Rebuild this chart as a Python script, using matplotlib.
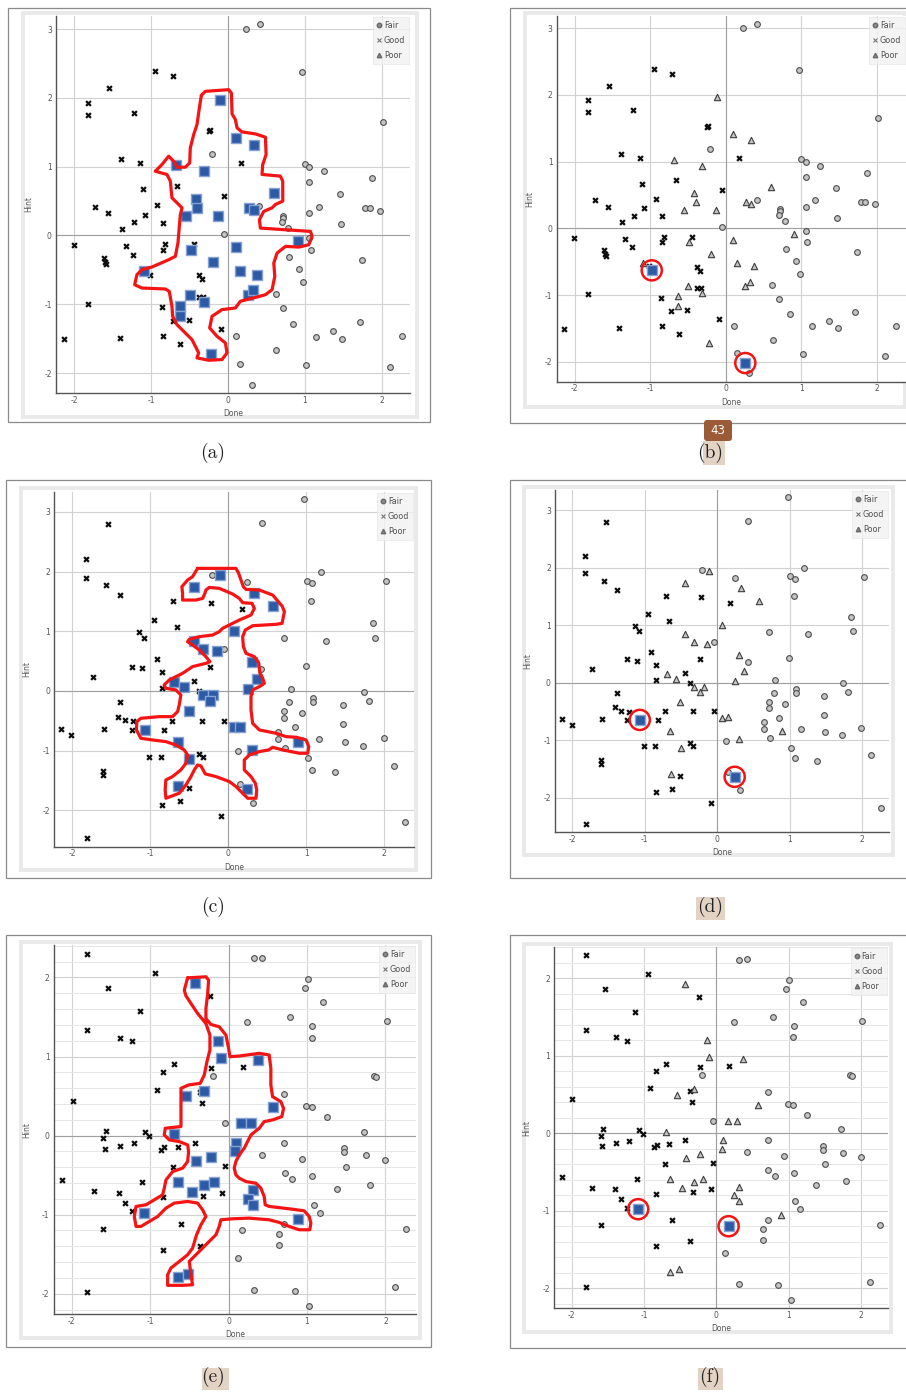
import numpy as np
import matplotlib
matplotlib.use("Agg")
import matplotlib.pyplot as plt
from matplotlib.lines import Line2D
from matplotlib.patches import Rectangle, FancyBboxPatch

W, H = 906, 1393

# ---------------- data set 1 : panels (a) / (b)
fair_1 = np.array([
    [0.23, 3.00], [0.42, 3.07], [0.97, 2.37], [2.02, 1.65], [-0.21, 1.19], [1.00, 1.04],
    [1.06, 1.00], [1.25, 0.94], [1.06, 0.77], [1.87, 0.83], [1.46, 0.60], [1.19, 0.42],
    [1.06, 0.32], [0.41, 0.43], [0.72, 0.29], [0.72, 0.26], [0.70, 0.20], [1.79, 0.40],
    [1.85, 0.40], [1.98, 0.36], [1.47, 0.16], [0.78, 0.11], [-0.05, 0.02], [1.06, -0.04],
    [1.08, -0.21], [0.80, -0.31], [1.74, -0.36], [0.93, -0.49], [0.98, -0.68], [0.62, -0.85],
    [0.71, -1.06], [0.85, -1.28], [0.11, -1.46], [1.15, -1.47], [1.37, -1.39], [1.49, -1.50],
    [1.72, -1.26], [2.26, -1.46], [0.63, -1.67], [1.02, -1.89], [2.11, -1.91], [0.31, -2.17],
    [0.15, -1.87]])
good_1 = np.array([
    [-1.82, 1.93], [-1.82, 1.75], [-1.55, 2.14], [-0.95, 2.39], [-0.71, 2.32], [-1.23, 1.78],
    [-0.23, 1.54], [-0.25, 1.52], [-1.39, 1.11], [-1.14, 1.05], [0.17, 1.06], [-1.11, 0.67],
    [-0.66, 0.72], [-0.05, 0.57], [-1.73, 0.42], [-1.56, 0.32], [-1.08, 0.30], [-0.92, 0.44],
    [-1.22, 0.19], [-0.85, 0.18], [-1.38, 0.10], [-2.01, -0.14], [-1.33, -0.16], [-1.24, -0.28],
    [-1.61, -0.33], [-1.60, -0.38], [-1.59, -0.42], [-0.82, -0.13], [-0.85, -0.21], [-0.44, -0.13],
    [-1.02, -0.57], [-0.38, -0.58], [-0.34, -0.64], [-1.82, -0.99], [-0.86, -1.04], [-0.38, -0.89],
    [-0.33, -0.90], [-0.72, -1.24], [-0.51, -1.23], [-0.09, -1.36], [-2.14, -1.51], [-1.41, -1.49],
    [-0.85, -1.46], [-0.62, -1.58]])
poor_1 = np.array([
    [-0.11, 1.97], [0.10, 1.42], [0.34, 1.32], [-0.68, 1.02], [-0.31, 0.93], [0.60, 0.62],
    [-0.42, 0.53], [-0.40, 0.40], [0.27, 0.40], [0.34, 0.37], [-0.55, 0.28], [-0.13, 0.28],
    [-0.48, -0.21], [0.10, -0.17], [0.91, -0.08], [-0.19, -0.38], [0.15, -0.52], [0.38, -0.57],
    [-1.09, -0.52], [-0.50, -0.86], [-0.31, -0.97], [0.26, -0.86], [0.32, -0.80], [-0.63, -1.02],
    [-0.63, -1.17], [-0.22, -1.72]])
picked_1 = np.array([[-0.98, -0.63], [0.26, -2.02]])
lasso_1 = np.array([
    [-0.347, 2.037], [-0.295, 2.095], [0.009, 2.119], [0.044, 2.071], [0.053, 1.766],
    [0.096, 1.684], [0.118, 1.563], [0.183, 1.505], [0.357, 1.476], [0.487, 1.428],
    [0.496, 1.176], [0.452, 1.031], [0.443, 0.887], [0.682, 0.862], [0.713, 0.789],
    [0.713, 0.499], [0.618, 0.451], [0.574, 0.402], [0.465, 0.349], [0.409, 0.228],
    [0.422, 0.107], [1.074, 0.059], [1.095, -0.014], [1.052, -0.135], [0.922, -0.169],
    [0.748, -0.159], [0.639, -0.256], [0.596, -0.401], [0.609, -0.595], [0.574, -0.788],
    [0.487, -0.861], [0.378, -0.895], [0.270, -0.924], [0.161, -0.957], [0.096, -1.054],
    [-0.078, -1.078], [-0.208, -1.175], [-0.239, -1.345], [-0.143, -1.466], [-0.034, -1.562],
    [-0.013, -1.707], [-0.078, -1.804], [-0.252, -1.814], [-0.404, -1.780], [-0.382, -1.707],
    [-0.469, -1.514], [-0.578, -1.393], [-0.665, -1.296], [-0.721, -1.175], [-0.730, -1.030],
    [-0.765, -0.812], [-0.817, -0.778], [-1.121, -0.764], [-1.216, -0.716], [-1.186, -0.570],
    [-1.121, -0.498], [-0.991, -0.459], [-0.773, -0.353], [-0.686, -0.304], [-0.652, -0.111],
    [-0.634, 0.131], [-0.621, 0.300], [-0.599, 0.402], [-0.730, 0.547], [-0.751, 0.789],
    [-0.795, 0.886], [-0.947, 0.934], [-0.860, 1.031], [-0.773, 1.152], [-0.699, 1.069],
    [-0.665, 0.992], [-0.556, 0.992], [-0.499, 1.055], [-0.491, 1.273], [-0.447, 1.466],
    [-0.404, 1.611], [-0.373, 1.853], [-0.347, 2.037]])

# ---------------- data set 2 : panels (c) / (d)
fair_2 = np.array([
    [0.97, 3.22], [0.43, 2.81], [-0.21, 1.95], [0.24, 1.82], [1.01, 1.85], [1.07, 1.81],
    [1.19, 1.99], [1.06, 1.50], [2.02, 1.84], [0.71, 0.88], [1.25, 0.84], [1.85, 1.14],
    [1.88, 0.89], [-0.05, 0.70], [0.99, 0.42], [0.42, 0.36], [0.80, 0.04], [0.78, -0.19],
    [0.71, -0.34], [0.72, -0.45], [0.94, -0.37], [1.08, -0.11], [1.09, -0.19], [1.47, -0.23],
    [1.74, -0.01], [1.80, -0.16], [0.85, -0.61], [0.64, -0.69], [0.64, -0.81], [0.73, -0.96],
    [1.16, -0.81], [1.47, -0.56], [1.49, -0.86], [1.72, -0.92], [1.99, -0.79], [0.12, -1.01],
    [1.02, -1.13], [1.07, -1.32], [1.37, -1.36], [2.12, -1.26], [0.32, -1.87], [2.26, -2.19],
    [0.15, -1.56]])
good_2 = np.array([
    [-1.82, 2.21], [-1.82, 1.90], [-1.54, 2.80], [-1.57, 1.77], [-1.39, 1.61], [-0.71, 1.51],
    [-0.22, 1.48], [0.17, 1.38], [-0.95, 1.19], [-0.66, 1.07], [-1.14, 0.99], [-1.08, 0.89],
    [-0.92, 0.54], [-1.24, 0.41], [-1.11, 0.38], [-0.24, 0.41], [-0.85, 0.31], [-1.73, 0.23],
    [-0.44, 0.17], [-0.85, 0.05], [-0.38, 0.00], [-1.39, -0.19], [-1.41, -0.43], [-1.33, -0.49],
    [-1.22, -0.51], [-1.24, -0.65], [-0.72, -0.50], [-0.34, -0.50], [-0.05, -0.50], [-0.82, -0.66],
    [-2.14, -0.64], [-2.01, -0.74], [-1.59, -0.64], [-1.01, -1.11], [-0.86, -1.11], [-0.38, -1.06],
    [-0.33, -1.10], [-1.61, -1.34], [-1.61, -1.41], [-0.51, -1.62], [-0.62, -1.85], [-0.85, -1.91],
    [-0.09, -2.10], [-1.81, -2.46]])
poor_2 = np.array([
    [-0.11, 1.94], [-0.44, 1.74], [0.33, 1.64], [0.57, 1.42], [0.07, 1.01], [-0.44, 0.84],
    [-0.32, 0.71], [-0.14, 0.67], [0.30, 0.48], [0.37, 0.20], [-0.70, 0.15], [-0.57, 0.07],
    [-0.32, -0.07], [-0.19, -0.07], [-0.24, -0.17], [0.25, 0.03], [-0.51, -0.33], [-1.07, -0.65],
    [0.07, -0.61], [0.15, -0.60], [-0.65, -0.85], [0.30, -0.99], [0.89, -0.85], [-0.50, -1.14],
    [-0.64, -1.59], [0.24, -1.64]])
picked_2 = np.array([[-1.07, -0.65], [0.24, -1.64]])
lasso_2 = np.array([
    [-0.394, 2.055], [0.098, 2.055], [0.133, 1.971], [0.193, 1.748], [0.227, 1.703],
    [0.398, 1.692], [0.569, 1.608], [0.689, 1.424], [0.719, 1.329], [0.689, 1.133],
    [0.612, 1.117], [0.312, 1.094], [0.218, 1.022], [0.184, 0.910], [0.193, 0.743],
    [0.227, 0.631], [0.334, 0.575], [0.389, 0.475], [0.406, 0.296], [0.441, 0.212],
    [0.462, 0.128], [0.398, 0.073], [0.312, 0.017], [0.291, -0.095], [0.291, -0.318],
    [0.312, -0.542], [0.398, -0.653], [0.612, -0.709], [0.740, -0.765], [0.869, -0.776],
    [0.997, -0.821], [1.031, -0.932], [1.018, -1.044], [0.911, -1.044], [0.697, -0.988],
    [0.569, -0.944], [0.518, -0.988], [0.398, -1.016], [0.270, -1.072], [0.205, -1.156],
    [0.205, -1.323], [0.291, -1.435], [0.347, -1.547], [0.364, -1.658], [0.355, -1.798],
    [0.248, -1.798], [0.184, -1.714], [0.098, -1.602], [0.013, -1.518], [-0.158, -1.435],
    [-0.295, -1.390], [-0.351, -1.256], [-0.394, -1.240], [-0.436, -1.323], [-0.479, -1.435],
    [-0.543, -1.575], [-0.629, -1.714], [-0.800, -1.798], [-0.809, -1.658], [-0.800, -1.491],
    [-0.715, -1.435], [-0.608, -1.323], [-0.543, -1.212], [-0.522, -1.072], [-0.565, -0.988],
    [-0.672, -0.905], [-0.800, -0.849], [-0.971, -0.821], [-1.121, -0.793], [-1.177, -0.653],
    [-1.172, -0.514], [-1.121, -0.458], [-0.886, -0.430], [-0.715, -0.430], [-0.650, -0.346],
    [-0.629, -0.235], [-0.608, -0.067], [-0.672, 0.017], [-0.800, 0.045], [-0.822, 0.101],
    [-0.757, 0.184], [-0.672, 0.240], [-0.586, 0.296], [-0.458, 0.408], [-0.372, 0.436],
    [-0.287, 0.463], [-0.235, 0.491], [-0.287, 0.575], [-0.372, 0.687], [-0.458, 0.771],
    [-0.522, 0.826], [-0.501, 0.865], [-0.372, 0.910], [-0.201, 0.938], [-0.116, 0.994],
    [-0.073, 1.050], [0.141, 1.189], [0.291, 1.273], [0.334, 1.385], [0.304, 1.468],
    [0.184, 1.480], [0.141, 1.552], [0.056, 1.625], [-0.116, 1.720], [-0.244, 1.736],
    [-0.287, 1.692], [-0.300, 1.636], [-0.329, 1.552], [-0.415, 1.524], [-0.586, 1.524],
    [-0.586, 1.636], [-0.595, 1.748], [-0.522, 1.859], [-0.458, 1.915], [-0.394, 2.055]])

# ---------------- data set 3 : panels (e) / (f)
fair_3 = np.array([
    [0.43, 2.25], [0.32, 2.24], [1.01, 1.98], [0.97, 1.87], [1.20, 1.69], [0.78, 1.50],
    [0.24, 1.44], [1.07, 1.38], [1.06, 1.24], [2.02, 1.45], [1.85, 0.75], [1.88, 0.74],
    [-0.20, 0.75], [0.71, 0.53], [0.99, 0.38], [1.06, 0.36], [1.25, 0.23], [1.73, 0.05],
    [-0.04, 0.16], [0.71, -0.09], [0.43, -0.24], [0.94, -0.29], [1.47, -0.16], [1.47, -0.21],
    [1.75, -0.25], [2.00, -0.31], [0.72, -0.47], [0.81, -0.55], [1.07, -0.51], [1.50, -0.40],
    [1.38, -0.67], [1.80, -0.62], [1.09, -0.88], [1.16, -0.98], [0.71, -1.12], [0.64, -1.24],
    [0.64, -1.38], [2.26, -1.18], [0.12, -1.55], [0.32, -1.95], [0.85, -1.96], [1.03, -2.15],
    [2.12, -1.92], [0.17, -1.20]])
good_3 = np.array([
    [-1.80, 2.30], [-1.54, 1.87], [-1.80, 1.34], [-0.94, 2.06], [-0.24, 1.76], [-1.13, 1.57],
    [-1.38, 1.24], [-1.23, 1.19], [-0.22, 0.86], [0.18, 0.87], [-0.70, 0.90], [-0.84, 0.81],
    [-0.91, 0.58], [-0.34, 0.41], [-0.37, 0.55], [-1.99, 0.44], [-1.56, 0.06], [-1.60, -0.03],
    [-1.07, 0.04], [-1.01, -0.01], [-1.38, -0.13], [-1.21, -0.10], [-0.82, -0.15], [-0.86, -0.18],
    [-0.65, -0.14], [-0.43, -0.09], [-1.58, -0.17], [-0.71, -0.40], [-0.04, -0.38], [-1.10, -0.59],
    [-2.13, -0.56], [-1.72, -0.70], [-1.40, -0.72], [-1.32, -0.85], [-1.23, -0.96], [-0.84, -0.78],
    [-0.32, -0.76], [-0.08, -0.72], [-1.60, -1.18], [-0.61, -1.12], [-0.37, -1.39], [-0.84, -1.45],
    [-1.80, -1.98]])
poor_3 = np.array([
    [-0.43, 1.93], [-0.13, 1.20], [-0.10, 0.98], [0.37, 0.96], [-0.31, 0.57], [-0.54, 0.50],
    [0.57, 0.36], [0.16, 0.16], [0.28, 0.16], [-0.69, 0.02], [0.09, -0.09], [0.08, -0.20],
    [-0.42, -0.32], [-0.23, -0.27], [-0.64, -0.59], [-0.47, -0.71], [-0.31, -0.63], [-0.19, -0.59],
    [0.31, -0.69], [0.25, -0.80], [0.31, -0.88], [-1.08, -0.98], [0.89, -1.06], [-0.64, -1.79],
    [-0.52, -1.75]])
picked_3 = np.array([[-1.08, -0.98], [0.17, -1.20]])
lasso_3 = np.array([
    [-0.522, 1.995], [-0.289, 2.008], [-0.255, 1.966], [-0.268, 1.776], [-0.289, 1.608],
    [-0.289, 1.481], [-0.225, 1.405], [-0.119, 1.376], [-0.034, 1.271], [0.000, 1.103],
    [0.017, 0.997], [0.136, 1.006], [0.391, 1.040], [0.518, 1.019], [0.539, 0.850],
    [0.539, 0.640], [0.561, 0.492], [0.667, 0.429], [0.701, 0.345], [0.679, 0.240],
    [0.561, 0.198], [0.454, 0.177], [0.391, 0.093], [0.285, 0.008], [0.242, -0.076],
    [0.200, -0.160], [0.136, -0.244], [0.093, -0.328], [0.072, -0.412], [0.093, -0.497],
    [0.136, -0.539], [0.221, -0.581], [0.348, -0.602], [0.412, -0.665], [0.454, -0.770],
    [0.467, -0.875], [0.518, -0.896], [0.773, -0.926], [0.964, -0.951], [1.028, -1.023],
    [1.049, -1.107], [1.036, -1.191], [0.900, -1.191], [0.773, -1.149], [0.645, -1.098],
    [0.518, -1.065], [0.263, -1.044], [0.051, -1.052], [-0.098, -1.065], [-0.119, -1.149],
    [-0.161, -1.254], [-0.289, -1.380], [-0.395, -1.486], [-0.501, -1.591], [-0.480, -1.759],
    [-0.459, -1.886], [-0.586, -1.894], [-0.777, -1.894], [-0.777, -1.759], [-0.735, -1.675],
    [-0.628, -1.591], [-0.522, -1.507], [-0.459, -1.423], [-0.408, -1.254], [-0.352, -1.128],
    [-0.289, -1.023], [-0.331, -0.939], [-0.395, -0.854], [-0.522, -0.833], [-0.692, -0.854],
    [-0.798, -0.917], [-0.904, -1.023], [-1.011, -1.086], [-1.117, -1.149], [-1.180, -1.149],
    [-1.202, -1.023], [-1.180, -0.896], [-1.053, -0.875], [-0.947, -0.812], [-0.841, -0.749],
    [-0.820, -0.665], [-0.798, -0.560], [-0.713, -0.455], [-0.586, -0.412], [-0.522, -0.328],
    [-0.510, -0.202], [-0.522, -0.118], [-0.628, -0.076], [-0.756, -0.055], [-0.820, 0.008],
    [-0.807, 0.093], [-0.607, 0.114], [-0.607, 0.598], [-0.510, 0.640], [-0.361, 0.661],
    [-0.310, 0.766], [-0.276, 0.934], [-0.238, 1.082], [-0.238, 1.271], [-0.289, 1.418],
    [-0.395, 1.545], [-0.480, 1.671], [-0.544, 1.768], [-0.565, 1.839], [-0.522, 1.995]])

legend_labels = ["Fair", "Good", "Poor"]
captions = ["(a)", "(b)", "(c)", "(d)", "(e)", "(f)"]

BLUE = "#2c5aa5"
BLUE_EDGE = "#86a2d2"
RED = "#f41414"
TXT = "#555555"

fig = plt.figure(figsize=(W / 100, H / 100), dpi=100)

# pixel-space background layer for frames and captions
bg = fig.add_axes([0, 0, 1, 1])
bg.set_xlim(0, W)
bg.set_ylim(H, 0)
bg.axis("off")

frames = [  # outer frame, inner band (left, top, right, bottom) in px
    ((8, 8, 430, 422), (23, 13, 417, 417)),
    ((510, 8, 914, 423), (525, 13, 905, 407)),
    ((6, 480, 431, 878), (21, 488, 416, 870)),
    ((510, 480, 914, 878), (524, 487, 893, 855)),
    ((6, 935, 431, 1347), (21, 942, 420, 1338)),
    ((510, 935, 914, 1348), (524, 944, 891, 1332)),
]
for outer, inner in frames:
    l, t, r, b = outer
    bg.add_patch(Rectangle((l, t), r - l, b - t, fill=False, ec="#8a8a8a", lw=0.9))
    l, t, r, b = inner
    bg.add_patch(Rectangle((l, t), r - l, b - t, fill=False, ec="#e9e9e9", lw=2.8))

cap_pos = [(213, 453), (710, 453), (213, 907), (710, 907), (213, 1377), (710, 1377)]
cap_box = [None, (703, 441, 22, 24), None, (696, 897, 29, 23), (202, 1368, 27, 22), (698, 1368, 25, 22)]
for txt, (cx, cy), box in zip(captions, cap_pos, cap_box):
    if box is not None:
        bg.add_patch(Rectangle(box[:2], box[2], box[3], fc="#e3d3c5", ec="none"))
    bg.text(cx, cy, txt, ha="center", va="center", fontsize=14, family="cmr10", color="#222222")

# page badge over caption (b)
bg.add_patch(FancyBboxPatch((704, 420), 28, 21, boxstyle="round,pad=0,rounding_size=3",
                            fc="#9c5b37", ec="none"))
bg.text(718, 431, "43", ha="center", va="center", fontsize=8.5, color="white")


def px_axes(l, t, r, b):
    return fig.add_axes([l / W, 1 - b / H, (r - l) / W, (b - t) / H])


def style_axes(ax, xlim, ylim, yticks, minor=False):
    ax.set_xlim(*xlim)
    ax.set_ylim(*ylim)
    ax.set_xticks([-2, -1, 0, 1, 2])
    ax.set_xticklabels([str(v) for v in [-2, -1, 0, 1, 2]])
    ax.set_yticks(yticks)
    ax.set_yticklabels([str(v) for v in yticks])
    ax.tick_params(length=0, labelsize=5.5, labelcolor=TXT)
    ax.tick_params(axis="x", pad=2)
    ax.tick_params(axis="y", pad=3)
    for s in ["top", "right"]:
        ax.spines[s].set_visible(False)
    for s in ["left", "bottom"]:
        ax.spines[s].set_color("#555555")
        ax.spines[s].set_linewidth(1.0)
    ax.set_axisbelow(True)
    if minor:
        ax.set_yticks(np.arange(-2.2, 2.41, 0.2), minor=True)
        ax.tick_params(which="minor", length=0)
        ax.grid(which="minor", axis="y", color="#e6e6e6", lw=0.7)
    ax.grid(which="major", color="#d2d2d2", lw=0.8)
    ax.axhline(0, color="#a0a0a0", lw=0.8, zorder=0.6)
    ax.axvline(0, color="#a0a0a0", lw=0.8, zorder=0.6)
    ax.set_xlabel("Done", fontsize=5.5, color=TXT, labelpad=3)
    ax.set_ylabel("Hint", fontsize=5.5, color=TXT, labelpad=8)
    handles = [
        Line2D([], [], ls="none", marker="o", ms=3.2, mfc="#8a8a8a", mec="#6a6a6a"),
        Line2D([], [], ls="none", marker="x", ms=2.6, mec="#777777", mew=0.8),
        Line2D([], [], ls="none", marker="^", ms=3.2, mfc="#8a8a8a", mec="#6a6a6a"),
    ]
    leg = ax.legend(handles, legend_labels, loc="upper right", fontsize=5.8, frameon=True,
                    handlelength=0.5, handletextpad=0.3, borderpad=0.5, labelspacing=0.75,
                    borderaxespad=0.1, fancybox=False)
    leg.get_frame().set_facecolor("#f2f2f2")
    leg.get_frame().set_edgecolor("#e6e6e6")
    leg.get_frame().set_linewidth(0.6)
    for t in leg.get_texts():
        t.set_color("#505050")


def draw_common(ax, fair, good):
    ax.scatter(fair[:, 0], fair[:, 1], s=17, marker="o", fc="#c4c4c4", ec="#4e4e4e",
               lw=0.8, zorder=3)
    ax.scatter(good[:, 0], good[:, 1], s=12, marker="x", c="#0d0d0d", lw=1.6, zorder=3)


def draw_left(ax, fair, good, poor, lasso):
    draw_common(ax, fair, good)
    ax.scatter(poor[:, 0], poor[:, 1], s=50, marker="s", fc=BLUE, ec=BLUE_EDGE, lw=1.0, zorder=4)
    ax.plot(lasso[:, 0], lasso[:, 1], color=RED, lw=2.3, solid_joinstyle="round",
            solid_capstyle="round", zorder=5)


def draw_right(ax, fair, good, poor, picked):
    draw_common(ax, fair, good)
    ax.scatter(poor[:, 0], poor[:, 1], s=21, marker="^", fc="#c4c4c4", ec="#3e3e3e",
               lw=0.8, zorder=3)
    ax.scatter(picked[:, 0], picked[:, 1], s=50, marker="s", fc=BLUE, ec=BLUE_EDGE, lw=1.0,
               zorder=4)
    ax.scatter(picked[:, 0], picked[:, 1], s=210, marker="o", fc="none", ec=RED, lw=1.8,
               zorder=5)


# panel (a)
ax = px_axes(56, 16, 410, 393)
draw_left(ax, fair_1, good_1, poor_1, lasso_1)
style_axes(ax, (-2.24, 2.37), (-2.29, 3.19), [-2, -1, 0, 1, 2, 3])

# panel (b)
ax = px_axes(556.7, 16.3, 906, 381.7)
draw_right(ax, fair_1, good_1, poor_1, picked_1)
style_axes(ax, (-2.24, 2.39), (-2.30, 3.18), [-2, -1, 0, 1, 2, 3])

# panel (c)
ax = px_axes(54.3, 491.7, 414, 846.7)
draw_left(ax, fair_2, good_2, poor_2, lasso_2)
style_axes(ax, (-2.23, 2.38), (-2.61, 3.34), [-2, -1, 0, 1, 2, 3])

# panel (d)
ax = px_axes(555, 490, 889, 832)
draw_right(ax, fair_2, good_2, poor_2, picked_2)
style_axes(ax, (-2.24, 2.37), (-2.60, 3.35), [-2, -1, 0, 1, 2, 3])

# panel (e)
ax = px_axes(53.7, 945, 416, 1314.3)
draw_left(ax, fair_3, good_3, poor_3, lasso_3)
style_axes(ax, (-2.23, 2.39), (-2.26, 2.41), [-2, -1, 0, 1, 2], minor=True)

# panel (f)
ax = px_axes(554.3, 946.7, 887.7, 1308.3)
draw_right(ax, fair_3, good_3, poor_3, picked_3)
style_axes(ax, (-2.24, 2.37), (-2.26, 2.41), [-2, -1, 0, 1, 2], minor=True)

fig.savefig("out.png", dpi=100)
